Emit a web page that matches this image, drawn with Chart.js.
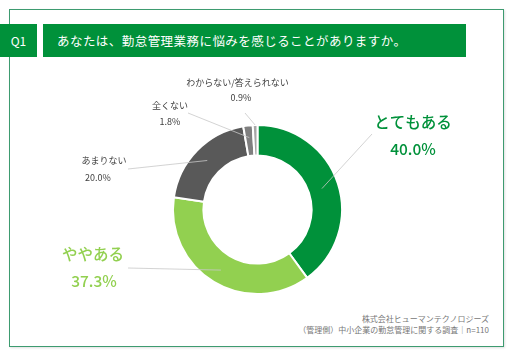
<!DOCTYPE html>
<html>
<head>
<meta charset="utf-8">
<script src="https://cdn.jsdelivr.net/npm/chart.js@4/dist/chart.umd.min.js"></script>
<style>
  html, body { margin:0; padding:0; background:#fff; }
  #wrap { position:relative; width:512px; height:355px; overflow:hidden; font-family:"Noto Sans CJK JP","Noto Sans",sans-serif; }
  #frame { position:absolute; left:9px; top:9px; width:493px; height:336px; border:1px solid #3d9b70; box-sizing:content-box; box-shadow:1px 1px 2px rgba(0,0,0,0.12); }
  #q1 { position:absolute; left:0; top:24px; width:37px; height:33px; background:#00913a; color:#fff; font-size:12px; line-height:33px; text-align:center; }
  #title { position:absolute; left:43px; top:24px; width:423px; height:33px; background:#00913a; color:#fff; font-size:12.5px; line-height:33px; padding-left:14px; box-sizing:border-box; white-space:nowrap; letter-spacing:0.45px; }
  #foot { position:absolute; right:23px; top:314px; text-align:right; color:#777; font-size:8px; line-height:10.5px; white-space:nowrap; }
  canvas { position:absolute; left:0; top:0; }
</style>
</head>
<body>
<div id="wrap">
  <div id="frame"></div>
  <div id="q1">Q1</div>
  <div id="title">あなたは、勤怠管理業務に悩みを感じることがありますか。</div>
  <div id="foot">株式会社ヒューマンテクノロジーズ<br>（管理側）中小企業の勤怠管理に関する調査｜n=110</div>
  <canvas id="c" width="512" height="355"></canvas>
</div>
<script>
const categories = ['とてもある', 'ややある', 'あまりない', '全くない', 'わからない/答えられない'];
const values = [40.0, 37.3, 20.0, 1.8, 0.9];
const valueLabels = values.map(v => v.toFixed(1) + '%');
const sliceColors = ['#00913a', '#92d050', '#595959', '#7f7f7f', '#a6a6a6'];

// label layout: offsets from the doughnut centre (text, percentage, leader start), font size, colour, leader end radius fraction
const labelLayout = [
  { tx: 155.5, ty: -87.5, px: 155.5, py: -60.5, sx: 114.5, sy: -75.5, size: 15.5, color: '#00913a', weight: 500, frac: 0.45 },
  { tx: -164.5, ty: 44.5, px: -163.5, py: 71.5, sx: -129.5, sy: 58.5, size: 15.5, color: '#92d050', weight: 500, frac: 0.55 },
  { tx: -153.5, ty: -48.5, px: -159.5, py: -31.5, sx: -129.5, sy: -40.5, size: 9, color: '#404040', weight: 400, frac: 0.53 },
  { tx: -87.5, ty: -103.5, px: -87.5, py: -87.5, sx: -69.5, sy: -96.5, size: 9, color: '#404040', weight: 400, frac: 0.6 },
  { tx: -20, ty: -126.5, px: -16.5, py: -111.5, sx: -12.5, sy: -96.5, size: 9, color: '#404040', weight: 400, frac: 1.0 }
];

const labelPlugin = {
  id: 'calloutLabels',
  afterDatasetsDraw(chart) {
    const ctx = chart.ctx;
    const meta = chart.getDatasetMeta(0);
    meta.data.forEach((arc, i) => {
      const p = arc.getProps(['x', 'y', 'startAngle', 'endAngle', 'innerRadius', 'outerRadius'], true);
      const L = labelLayout[i];
      const mid = (p.startAngle + p.endAngle) / 2;
      const r = p.innerRadius + (p.outerRadius - p.innerRadius) * L.frac;
      const ex = p.x + Math.cos(mid) * r;
      const ey = p.y + Math.sin(mid) * r;
      ctx.save();
      ctx.strokeStyle = '#c8c8c8';
      ctx.lineWidth = 0.8;
      ctx.beginPath();
      ctx.moveTo(p.x + L.sx, p.y + L.sy);
      ctx.lineTo(ex, ey);
      ctx.stroke();
      ctx.fillStyle = L.color;
      ctx.textAlign = 'center';
      ctx.textBaseline = 'middle';
      ctx.font = L.weight + ' ' + L.size + 'px "Noto Sans CJK JP"';
      ctx.fillText(categories[i], p.x + L.tx, p.y + L.ty);
      ctx.fillText(valueLabels[i], p.x + L.px, p.y + L.py);
      ctx.restore();
    });
  }
};

new Chart(document.getElementById('c'), {
  type: 'doughnut',
  data: {
    labels: categories,
    datasets: [{
      data: values,
      backgroundColor: sliceColors,
      borderColor: '#ffffff',
      borderWidth: 2
    }]
  },
  options: {
    responsive: false,
    animation: false,
    cutout: '64%',
    layout: { padding: { left: 172, right: 169, top: 124, bottom: 60 } },
    plugins: { legend: { display: false }, tooltip: { enabled: false } }
  },
  plugins: [labelPlugin]
});
</script>
</body>
</html>
